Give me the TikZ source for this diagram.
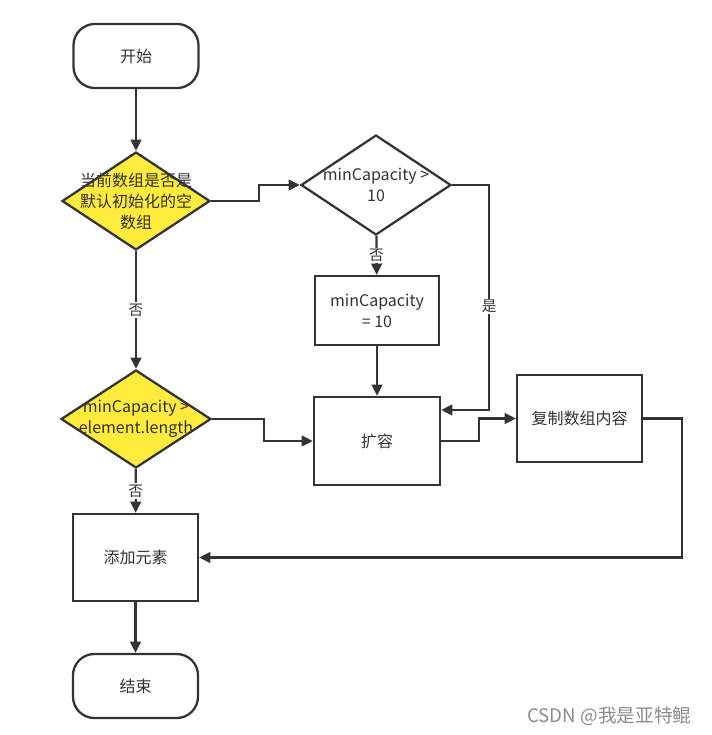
\documentclass[tikz,border=0pt]{standalone}
\usepackage{fontspec}
\setmainfont{Noto Sans CJK SC}
\usepackage{xcolor}
\usetikzlibrary{shapes.geometric,arrows.meta}
\definecolor{ink}{HTML}{333333}
\definecolor{lemon}{HTML}{FFEB3B}

\begin{document}
\begin{tikzpicture}[x=0.75pt,y=-0.75pt,color=ink,line width=1.7pt,line join=miter,
  font=\fontsize{12}{15.75}\selectfont,
  term/.style={draw,rounded corners=16pt,minimum width=93.75pt,minimum height=48pt},
  proc/.style={draw,minimum width=93.75pt,minimum height=65.25pt,align=center},
  cond/.style={draw,diamond,inner sep=0pt,minimum width=112.5pt,minimum height=74pt},
  arr/.style={-{Triangle[length=8.5pt,width=8pt]}},
  lbl/.style={fill=white,inner sep=1pt,font=\fontsize{11}{12}\selectfont}]%
\useasboundingbox (0,0) rectangle (712,735);%
% boxes
\node[term] (start) at (136,56) {开始};%
\node[cond,fill=lemon,minimum width=111pt,minimum height=73.5pt,
  label={[align=center,text=ink]center:当前数组是否是\\默认初始化的空\\数组}] (isempty) at (136,201) {};%
\node[cond,minimum height=75pt,
  label={[align=center,text=ink]center:minCapacity >\\10}] (gtten) at (376,185) {};%
\node[proc,minimum width=93pt,minimum height=51.75pt] (setten) at (377,310.5) {minCapacity\\= 10};%
\node[cond,fill=lemon,minimum height=73.5pt,
  label={[align=center,text=ink]center:minCapacity >\\element.length}] (toosmall) at (136,419) {};%
\node[proc,minimum width=94.5pt,minimum height=66pt] (grow) at (377,441) {扩容};%
\node[proc] (copy) at (579.5,418.5) {复制数组内容};%
\node[proc] (add) at (135.5,557.5) {添加元素};%
\node[term] (finish) at (135.5,686) {结束};%
% links
\draw[arr] (start) -- (isempty);%
\draw[arr] (isempty.east) -- ++(48,0) |- (gtten.west);%
\draw[arr] (isempty) -- node[lbl] {否} (toosmall);%
\draw[arr] (gtten) -- node[lbl] {否} (setten);%
\draw[arr] (gtten.east) -- ++(37,0) |- node[lbl,pos=0.27] {是} ([yshift=23.25pt]grow.east);%
\draw[arr] (setten) -- (grow);%
\draw[arr] (toosmall.east) -- ++(52,0) |- (grow.west);%
\draw[arr] (grow.east) -- ++(38,0) |- (copy.west);%
\draw[arr] (copy.east) -- ++(39,0) |- (add.east);%
\draw[arr] (toosmall) -- node[lbl] {否} (add);%
\draw[arr] (add) -- (finish);%
% watermark
\node[anchor=east,text=black!45,font=\fontsize{14}{16}\selectfont] (mark) at (697,716) {CSDN @我是亚特鲲};%
\end{tikzpicture}
\end{document}
